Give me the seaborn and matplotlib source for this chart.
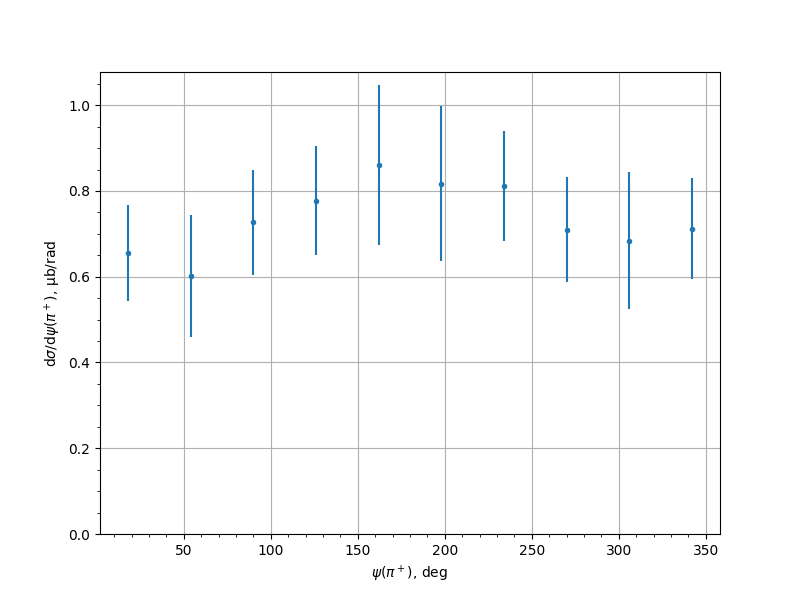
import matplotlib
matplotlib.use("Agg")
import matplotlib.pyplot as plt
import seaborn as sns
import pandas as pd

psi_deg = [18, 54, 90, 126, 162, 198, 234, 270, 306, 342]
dsigma = [0.656, 0.602, 0.727, 0.777, 0.861, 0.817, 0.812, 0.710, 0.684, 0.712]
err = [0.112, 0.142, 0.122, 0.127, 0.187, 0.181, 0.128, 0.123, 0.160, 0.118]

df = pd.DataFrame({"psi": psi_deg, "y": dsigma, "err": err})

fig, ax = plt.subplots(figsize=(8, 6), dpi=100)
ax.errorbar(df["psi"], df["y"], yerr=df["err"], fmt="none", ecolor="#1f77b4",
            elinewidth=1.5, zorder=2)
sns.scatterplot(data=df, x="psi", y="y", ax=ax, color="#1f77b4", s=16,
                linewidth=0, zorder=3)
ax.set_ylim(bottom=0)
ax.minorticks_on()
ax.grid(True, which="major", color="#b0b0b0", linewidth=0.8)
ax.set_axisbelow(True)
ax.set_xlabel(r"$\psi(\pi^+)$, deg")
ax.set_ylabel(r"d$\sigma$/d$\psi(\pi^+)$, μb/rad")
fig.savefig("out.png", dpi=100)
